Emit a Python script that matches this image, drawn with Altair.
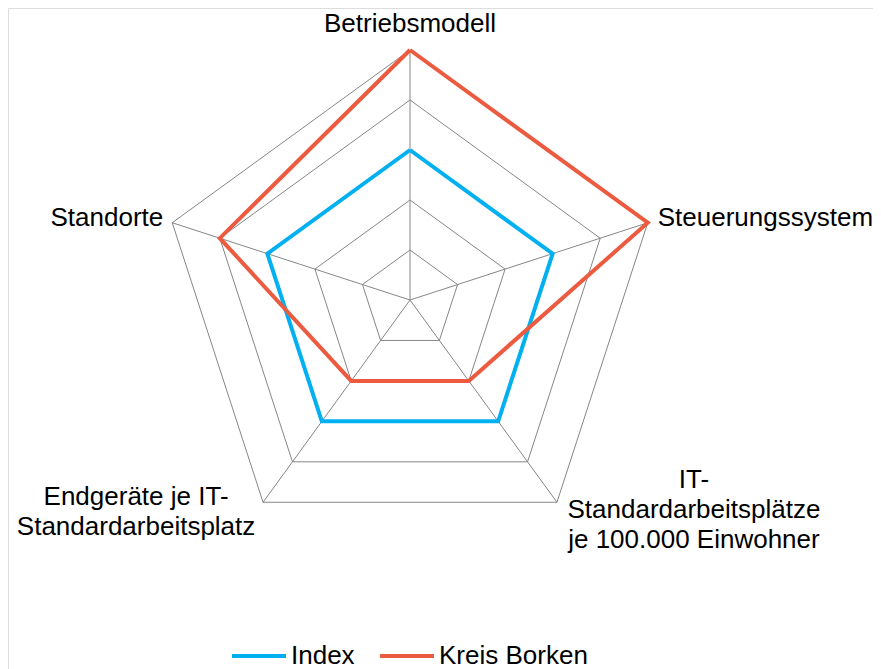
import math
import altair as alt
import pandas as pd

categories = ["Betriebsmodell", "Steuerungssystem",
              "IT-Standardarbeitsplätze je 100.000 Einwohner",
              "Endgeräte je IT-Standardarbeitsplatz", "Standorte"]
label_texts = ["Betriebsmodell", "Steuerungssystem",
               "IT-\nStandardarbeitsplätze\nje 100.000 Einwohner",
               "Endgeräte je IT-\nStandardarbeitsplatz", "Standorte"]
series_names = ["Index", "Kreis Borken"]
index_values = [3, 3, 3, 3, 3]
borken_values = [5, 5, 2, 2, 4]
levels = [1, 2, 3, 4, 5]
colors = ["#00B0F0", "#EC5B40"]

N = len(categories)
FONT = "Liberation Sans"
FS = 26

# polygon tables (closing point repeated)
rows = []
for s, vals in zip(series_names, [index_values, borken_values]):
    for k in range(N + 1):
        rows.append({"series": s, "k": k, "idx": k % N, "value": vals[k % N]})
series_df = pd.DataFrame(rows)

ring_rows = []
for lv in levels:
    for k in range(N + 1):
        ring_rows.append({"level": lv, "k": k, "idx": k % N, "value": lv})
ring_df = pd.DataFrame(ring_rows)

spoke_df = pd.DataFrame({"idx": list(range(N)), "value": [max(levels)] * N})
label_df = pd.DataFrame({"idx": list(range(N)), "label": label_texts,
                         "value": [max(levels)] * N})

W, H = 865, 661
xs = alt.Scale(domain=[-8.04, 9.26], nice=False, zero=False)
ys = alt.Scale(domain=[5.84 - H / 50.0, 5.84], nice=False, zero=False)

def polar(ch):
    return ch.transform_calculate(
        ang="2*PI*datum.idx/%d" % N
    ).transform_calculate(
        px="datum.value*sin(datum.ang)",
        py="datum.value*cos(datum.ang)",
    )

X = alt.X("px:Q", scale=xs, axis=None)
Y = alt.Y("py:Q", scale=ys, axis=None)

rings = polar(alt.Chart(ring_df)).mark_line(
    stroke="#868686", strokeWidth=1
).encode(x=X, y=Y, detail="level:N", order="k:Q")

spokes = polar(alt.Chart(spoke_df)).transform_calculate(
    cx="0", cy="0"
).mark_rule(stroke="#868686", strokeWidth=1).encode(
    x=alt.X("cx:Q", scale=xs, axis=None),
    y=alt.Y("cy:Q", scale=ys, axis=None),
    x2="px:Q", y2="py:Q",
)

lines = polar(alt.Chart(series_df)).mark_line(strokeWidth=4).encode(
    x=X, y=Y, order="k:Q",
    color=alt.Color(
        "series:N",
        scale=alt.Scale(domain=series_names, range=colors),
        legend=alt.Legend(
            title=None, orient="none", direction="horizontal",
            legendX=222, legendY=619, symbolType="stroke",
            symbolSize=2916, symbolStrokeWidth=4, labelFontSize=FS,
            labelFont=FONT, labelColor="#000000", labelOffset=3,
            columnPadding=17, padding=0, labelLimit=400,
        ),
    ),
)

label_specs = [
    dict(align="center", dx=0, dy=-18),
    dict(align="left", dx=10, dy=3),
    dict(align="center", dx=137, dy=-14),
    dict(align="center", dx=-127, dy=3),
    dict(align="right", dx=-9, dy=3),
]
label_layers = []
for i, spec in enumerate(label_specs):
    label_layers.append(
        polar(alt.Chart(label_df)).transform_filter(
            alt.datum.idx == i
        ).mark_text(
            font=FONT, fontSize=FS, color="#000000", baseline="alphabetic",
            lineBreak="\n", lineHeight=30, **spec
        ).encode(x=X, y=Y, text="label:N")
    )

chart = alt.layer(rings, spokes, lines, *label_layers).properties(
    width=W, height=H, autosize=alt.AutoSizeParams(type="none"), padding=0
).configure_view(strokeWidth=0).configure(background="#ffffff")

chart.save("out.html", embed_options={"renderer": "svg", "actions": False})
